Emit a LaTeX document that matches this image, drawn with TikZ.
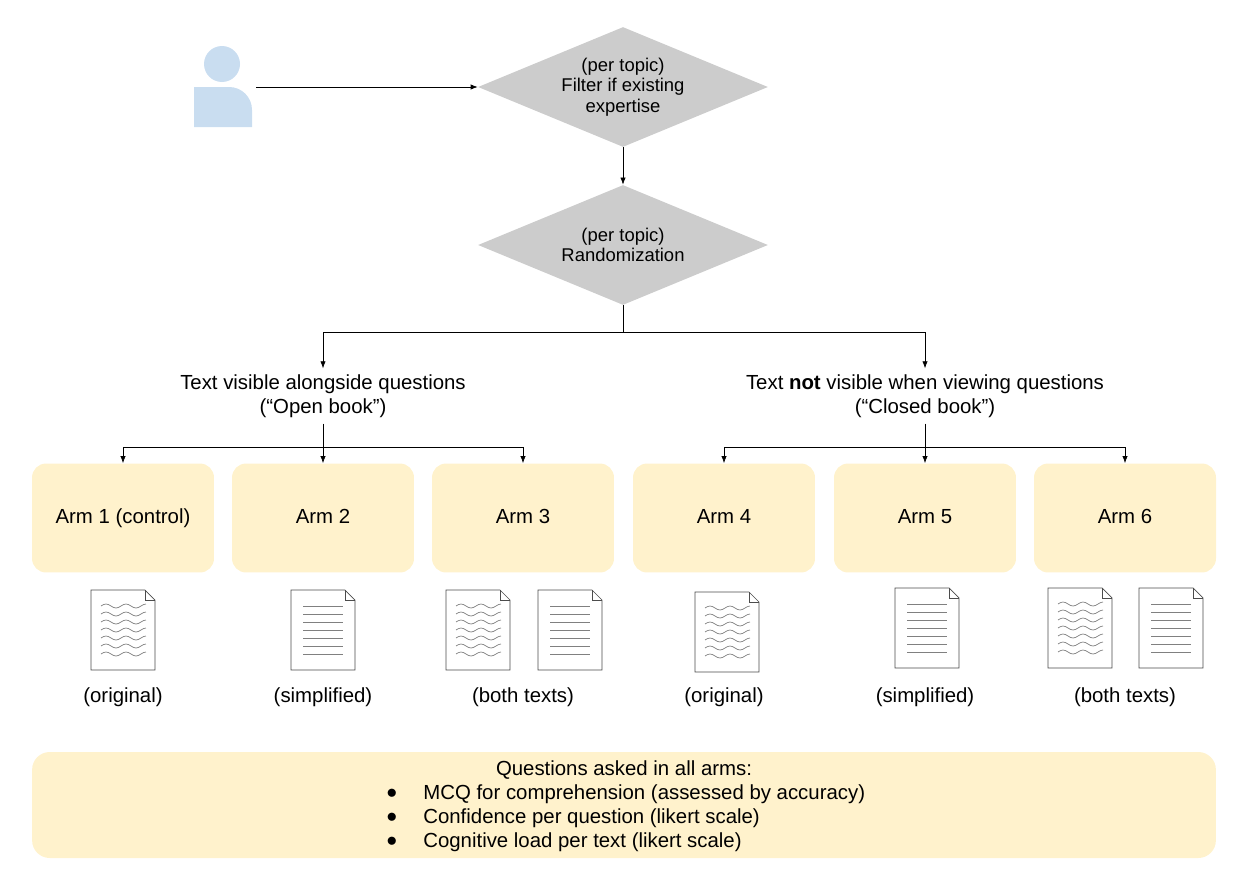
\documentclass[tikz,border=0pt]{standalone}
\usepackage{fontspec}
\setmainfont{Liberation Sans}
\usetikzlibrary{shapes.geometric,arrows.meta}
\definecolor{armfill}{HTML}{FFF2CC}
\definecolor{dgray}{HTML}{CCCCCC}
\definecolor{personblue}{HTML}{C9DDF0}
\tikzset{
  every node/.style={font=\fontsize{11.6}{13.6}\selectfont},
  decision/.style={diamond,fill=dgray,minimum width=5.8cm,minimum height=2.4cm,inner sep=0pt,align=center,aspect=2.4,font=\fontsize{10.5}{11.6}\selectfont},
  arm/.style={rectangle,rounded corners=8pt,fill=armfill,minimum width=3.64cm,minimum height=2.18cm,text height=8.5pt,text depth=2.5pt},
  link/.style={-{Latex[length=4pt,width=3pt]},thin},
  doc/.pic={
    \draw[gray!60!black,fill=white] (-32,-40) -- (22,-40) -- (32,-30) -- (32,40) -- (-32,40) -- cycle;
    \draw[gray!60!black] (22,-40) -- (22,-30) -- (32,-30);
  },
  wavy/.pic={
    \pic {doc};
    \foreach \y in {-24,-16,...,24}
      \draw[gray,thin] (-22,\y) sin (-17,\y-2) cos (-12,\y) sin (-7,\y+2) cos (-2,\y) sin (3,\y-2) cos (8,\y) sin (13,\y+2) cos (18,\y) sin (23,\y-2);
  },
  plain/.pic={
    \pic {doc};
    \foreach \y in {-24,-16,...,24}
      \draw[gray] (-20,\y) -- (20,\y);
  }
}
\begin{document}
\begin{tikzpicture}[x=0.02cm,y=-0.02cm]
\useasboundingbox (0,0) rectangle (1250,889);

% person
\fill[personblue] (222,64) circle (18);
\fill[personblue,rounded corners=13] (194,127) [sharp corners] -- (194,87) [rounded corners=13] -- (252,87) [sharp corners] -- (252,127) -- cycle;
\fill[personblue] (194,110) rectangle (252,127);
\coordinate (user) at (256,87);

% decisions
\node[decision] (filter) at (623,87) {(per topic)\\Filter if existing\\expertise};
\node[decision] (rand) at (623,245) {(per topic)\\Randomization};
\draw[link] (user) -- (filter.west);
\draw[link] (filter.south) -- (rand.north);

% conditions
\node[align=center] (open) at (323,396) {Text visible alongside questions\\(“Open book”)};
\node[align=center] (closed) at (925,396) {Text \textbf{not} visible when viewing questions\\(“Closed book”)};
\coordinate (split) at (623,332);
\draw (rand.south) -- (split);
\draw[link] (split) -| (open.north);
\draw[link] (split) -| (closed.north);

% arms
\foreach \i/\x/\t in {1/123/Arm 1 (control),2/323/Arm 2,3/523/Arm 3,4/724/Arm 4,5/925/Arm 5,6/1125/Arm 6}
  \node[arm] (arm\i) at (\x,518) {\t};
\coordinate (openfork) at (323,447);
\coordinate (closedfork) at (925,447);
\draw (open.south) -- (openfork);
\draw (closed.south) -- (closedfork);
\foreach \i in {1,2,3}
  \draw[link] (openfork) -| (arm\i.north);
\foreach \i in {4,5,6}
  \draw[link] (closedfork) -| (arm\i.north);

% texts
\pic at (123,630) {wavy};
\pic at (323,630) {plain};
\pic at (478,630) {wavy};
\pic at (570,630) {plain};
\pic at (727,632) {wavy};
\pic at (927,628) {plain};
\pic at (1080,628) {wavy};
\pic at (1171,628) {plain};
\foreach \i/\x/\t in {1/123/(original),2/323/(simplified),3/523/(both texts),4/724/(original),5/925/(simplified),6/1125/(both texts)}
  \node (lbl\i) at (\x,697) {\t};

% questions
\node[rectangle,rounded corners=10pt,fill=armfill,minimum width=23.68cm,minimum height=2.12cm] (questions) at (624,805) {};
\node (qtitle) at (624,770) {Questions asked in all arms:};
\foreach \y/\t in {794/MCQ for comprehension (assessed by accuracy),818/Confidence per question (likert scale),842/Cognitive load per text (likert scale)} {
  \node at (392,\y) {$\bullet$};
  \node[anchor=west,inner sep=0pt] at (423,\y) {\t};
}
\end{tikzpicture}
\end{document}
